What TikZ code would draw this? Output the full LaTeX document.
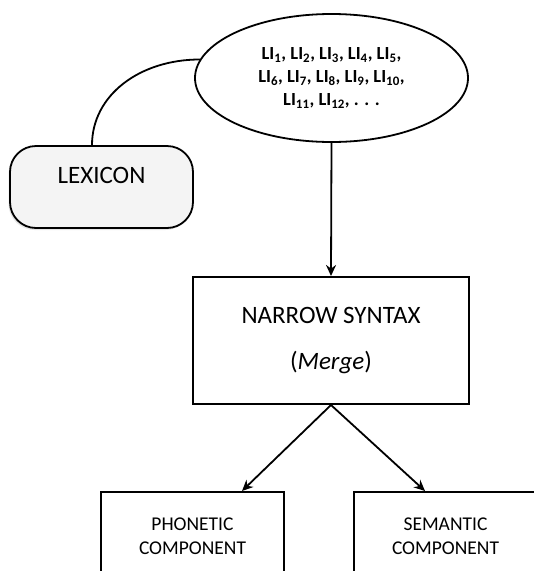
\documentclass[tikz,border=0pt]{standalone}
\usepackage{fontspec}
\setmainfont{Carlito}
\usetikzlibrary{shapes.geometric,arrows.meta,shadows}

\begin{document}
\begin{tikzpicture}[x=1pt,y=-1pt,line width=1.8pt,
    box/.style={draw,rectangle,line width=2pt,inner sep=0pt,align=center},
    arr/.style={-{Stealth[length=11pt,width=10pt]},line width=1.8pt}]
    \clip (0,0) rectangle (534,571);

    % Lexical items and the lexicon
    \node[draw,ellipse,minimum width=273pt,minimum height=128pt,inner sep=0pt,align=center,
          font=\fontsize{18.5}{23}\selectfont\bfseries] (items) at (331.5,78)
        {LI\textsubscript{1}, LI\textsubscript{2}, LI\textsubscript{3}, LI\textsubscript{4}, LI\textsubscript{5},\\
         LI\textsubscript{6}, LI\textsubscript{7}, LI\textsubscript{8}, LI\textsubscript{9}, LI\textsubscript{10},\\
         LI\textsubscript{11}, LI\textsubscript{12}, . . .};
    \node[draw,rectangle,rounded corners=26pt,fill=gray!9,line width=1.8pt,inner sep=0pt,
          minimum width=183pt,text height=37.5pt,text depth=44.5pt,
          drop shadow={opacity=0.2,shadow xshift=-1.5pt,shadow yshift=-2pt},
          font=\fontsize{25}{30}\selectfont] (lexicon) at (101.5,187) {LEXICON};

    % Syntax and the two interfaces
    \node[box,minimum width=276pt,minimum height=127pt,font=\fontsize{25}{46}\selectfont] (syntax) at (331,340.5)
        {NARROW SYNTAX\\(\textit{Merge})};
    \node[box,minimum width=183pt,minimum height=88pt,font=\fontsize{19.5}{23.5}\selectfont] (phon) at (192.5,536)
        {PHONETIC\\COMPONENT};
    \node[box,minimum width=183pt,minimum height=88pt,font=\fontsize{19.5}{23.5}\selectfont] (sem) at (445.5,536)
        {SEMANTIC\\COMPONENT};

    \draw ([xshift=-9.5pt]lexicon.north) .. controls +(0,-50) and +(-60,0) .. (items.172);
    \draw[arr] (items.south) -- (syntax.north);
    \draw[arr] (syntax.south) -- ([xshift=49.5pt]phon.north);
    \draw[arr] (syntax.south) -- ([xshift=-20.5pt]sem.north);
\end{tikzpicture}
\end{document}
